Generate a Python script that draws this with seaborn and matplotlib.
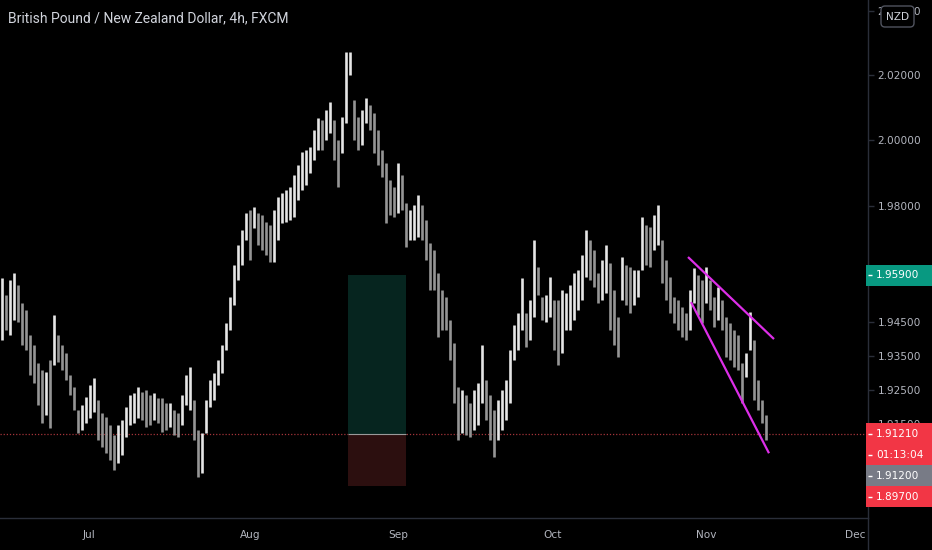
import numpy as np
import pandas as pd
import matplotlib
matplotlib.use("Agg")
import matplotlib.pyplot as plt
import matplotlib.ticker as mticker
from matplotlib.patches import Rectangle, FancyBboxPatch
from matplotlib.lines import Line2D
from matplotlib.transforms import IdentityTransform
import seaborn as sns

# chart data (~one bar per 4 px)
title = "British Pound / New Zealand Dollar, 4h, FXCM"

highs = [1.9582, 1.9531, 1.9576, 1.9597, 1.9561, 1.9507, 1.9486, 1.9412, 1.9382, 1.9329,
         1.9308, 1.9302, 1.9338, 1.9471, 1.9412, 1.9382, 1.9358, 1.9294, 1.9258, 1.9190,
         1.9205, 1.9229, 1.9264, 1.9285, 1.9220, 1.9181, 1.9170, 1.9146, 1.9117, 1.9146,
         1.9161, 1.9199, 1.9235, 1.9240, 1.9258, 1.9243, 1.9249, 1.9235, 1.9240, 1.9226,
         1.9226, 1.9211, 1.9211, 1.9190, 1.9181, 1.9235, 1.9294, 1.9317, 1.9220, 1.9132,
         1.9123, 1.9220, 1.9279, 1.9300, 1.9338, 1.9382, 1.9447, 1.9525, 1.9621, 1.9681,
         1.9726, 1.9778, 1.9787, 1.9796, 1.9778, 1.9772, 1.9751, 1.9742, 1.9787, 1.9826,
         1.9838, 1.9847, 1.9856, 1.9893, 1.9924, 1.9963, 1.9969, 1.9979, 2.0031, 2.0067,
         2.0061, 2.0092, 2.0117, 2.0061, 2.0000, 2.0070, 2.0271, 2.0271, 2.0123, 2.0070,
         2.0092, 2.0129, 2.0107, 2.0083, 2.0031, 1.9969, 1.9930, 1.9878, 1.9856, 1.9930,
         1.9893, 1.9808, 1.9787, 1.9802, 1.9832, 1.9802, 1.9757, 1.9687, 1.9666, 1.9597,
         1.9546, 1.9525, 1.9456, 1.9388, 1.9258, 1.9249, 1.9235, 1.9211, 1.9249, 1.9270,
         1.9382, 1.9279, 1.9235, 1.9190, 1.9220, 1.9249, 1.9279, 1.9367, 1.9442, 1.9477,
         1.9582, 1.9477, 1.9516, 1.9696, 1.9615, 1.9525, 1.9531, 1.9585, 1.9516, 1.9516,
         1.9546, 1.9537, 1.9561, 1.9597, 1.9606, 1.9651, 1.9726, 1.9696, 1.9666, 1.9597,
         1.9636, 1.9681, 1.9627, 1.9546, 1.9465, 1.9645, 1.9621, 1.9615, 1.9606, 1.9606,
         1.9766, 1.9742, 1.9736, 1.9772, 1.9802, 1.9696, 1.9636, 1.9585, 1.9525, 1.9516,
         1.9495, 1.9477, 1.9546, 1.9612, 1.9591, 1.9576, 1.9615, 1.9576, 1.9525, 1.9555,
         1.9516, 1.9465, 1.9447, 1.9427, 1.9412, 1.9329, 1.9358, 1.9480, 1.9397, 1.9279,
         1.9220, 1.9176]

lows = [1.9397, 1.9427, 1.9412, 1.9456, 1.9450, 1.9382, 1.9367, 1.9294, 1.9270, 1.9205,
        1.9152, 1.9176, 1.9138, 1.9323, 1.9332, 1.9308, 1.9279, 1.9235, 1.9190, 1.9123,
        1.9132, 1.9152, 1.9167, 1.9184, 1.9102, 1.9082, 1.9064, 1.9044, 1.9015, 1.9035,
        1.9059, 1.9111, 1.9146, 1.9152, 1.9167, 1.9161, 1.9141, 1.9146, 1.9161, 1.9152,
        1.9126, 1.9132, 1.9141, 1.9117, 1.9111, 1.9146, 1.9205, 1.9190, 1.9102, 1.8995,
        1.9006, 1.9123, 1.9199, 1.9220, 1.9264, 1.9300, 1.9367, 1.9427, 1.9501, 1.9576,
        1.9621, 1.9696, 1.9636, 1.9732, 1.9681, 1.9666, 1.9651, 1.9630, 1.9630, 1.9696,
        1.9748, 1.9751, 1.9757, 1.9766, 1.9817, 1.9847, 1.9863, 1.9899, 1.9939, 1.9969,
        1.9969, 2.0000, 2.0022, 1.9939, 1.9856, 1.9960, 2.0052, 2.0200, 2.0000, 1.9969,
        1.9985, 2.0052, 2.0031, 1.9960, 1.9924, 1.9887, 1.9748, 1.9772, 1.9766, 1.9778,
        1.9787, 1.9675, 1.9696, 1.9696, 1.9705, 1.9696, 1.9636, 1.9546, 1.9546, 1.9406,
        1.9427, 1.9427, 1.9338, 1.9211, 1.9102, 1.9123, 1.9117, 1.9111, 1.9132, 1.9146,
        1.9211, 1.9161, 1.9102, 1.9053, 1.9102, 1.9132, 1.9161, 1.9211, 1.9338, 1.9367,
        1.9427, 1.9376, 1.9397, 1.9465, 1.9531, 1.9456, 1.9450, 1.9465, 1.9367, 1.9323,
        1.9358, 1.9427, 1.9427, 1.9456, 1.9486, 1.9516, 1.9585, 1.9576, 1.9555, 1.9507,
        1.9516, 1.9537, 1.9427, 1.9382, 1.9347, 1.9516, 1.9501, 1.9477, 1.9501, 1.9525,
        1.9606, 1.9621, 1.9615, 1.9666, 1.9681, 1.9567, 1.9516, 1.9477, 1.9447, 1.9427,
        1.9406, 1.9397, 1.9427, 1.9507, 1.9471, 1.9447, 1.9507, 1.9486, 1.9436, 1.9456,
        1.9427, 1.9347, 1.9338, 1.9317, 1.9308, 1.9211, 1.9288, 1.9367, 1.9220, 1.9190,
        1.9152, 1.9102]

month_labels = ["Jul", "Aug", "Sep", "Oct", "Nov", "Dec"]
month_starts = [21.75, 62, 99, 137.75, 176, 213.25]   # bar index where the month begins

price_ticks = [2.04, 2.02, 2.00, 1.98, 1.945, 1.935, 1.925, 1.915]

last_close = 1.9121
entry_price = 1.9121
target_price = 1.9590
stop_price = 1.8970
position_bars = [86.5, 101.0]

wedge_upper_x = [171.5, 193.0]
wedge_upper_y = [1.9645, 1.9400]
wedge_lower_x = [172.25, 191.75]
wedge_lower_y = [1.9510, 1.9064]

countdown = "01:13:04"
bid_price = 1.9120

W, H = 932, 550
BG = "#000000"
GRID_LINE = "#2a2e39"
TXT = "#b2b5be"

# long-form table: each bar is a vertical low-high segment
bars = list(range(len(highs)))
mids = [(h + l) / 2 for h, l in zip(highs, lows)]
dirs = ["up"] + ["up" if mids[i] >= mids[i - 1] else "down" for i in range(1, len(mids))]
df = pd.DataFrame({
    "bar": bars + bars,
    "price": highs + lows,
    "dir": dirs + dirs,
})

sns.set_theme(style="dark")
plt.rcParams["font.family"] = ["DejaVu Sans"]
plt.rcParams["lines.solid_capstyle"] = "butt"

fig = plt.figure(figsize=(W / 100, H / 100), dpi=100, facecolor=BG)
ax = fig.add_axes([0, 32 / H, 868 / W, 518 / H])
ax.set_facecolor(BG)

sns.lineplot(data=df, x="bar", y="price", units="bar", estimator=None, sort=False,
             hue="dir", palette={"up": "#e6e6e6", "down": "#959595"},
             linewidth=1.9, legend=False, ax=ax)

ax.set_yscale("log")
ax.set_xlim(-0.5, 216.5)
ax.set_ylim(1.8876, 2.0433)

# long position box
ax.add_patch(Rectangle((position_bars[0], entry_price), position_bars[1] - position_bars[0],
                       target_price - entry_price, facecolor="#06251f", edgecolor="none", zorder=1))
ax.add_patch(Rectangle((position_bars[0], stop_price), position_bars[1] - position_bars[0],
                       entry_price - stop_price, facecolor="#2c0f0f", edgecolor="none", zorder=1))
ax.plot(position_bars, [entry_price, entry_price], color="#9a9a9a", lw=0.8, zorder=2)

# last price dotted line
ax.axhline(last_close, color="#a5343a", lw=0.9, ls=(0, (1, 1.5)), zorder=0.5)

# falling wedge
ax.plot(wedge_upper_x, wedge_upper_y, color="#dd2ee8", lw=1.6, zorder=5)
ax.plot(wedge_lower_x, wedge_lower_y, color="#dd2ee8", lw=1.6, zorder=5)

# axes styling
ax.grid(False)
for s in ["top", "left"]:
    ax.spines[s].set_visible(False)
for s in ["bottom", "right"]:
    ax.spines[s].set_color(GRID_LINE)
    ax.spines[s].set_linewidth(1.0)

ax.yaxis.tick_right()
ax.yaxis.set_major_locator(mticker.FixedLocator(price_ticks))
ax.yaxis.set_minor_locator(mticker.NullLocator())
ax.yaxis.set_major_formatter(mticker.FuncFormatter(lambda v, p: f"{v:.5f}"))
ax.set_xticks(month_starts)
ax.set_xticklabels(month_labels)
ax.tick_params(axis="y", colors=GRID_LINE, labelcolor=TXT, labelsize=7.6,
               length=4, width=1, pad=3, direction="out")
ax.tick_params(axis="x", colors=GRID_LINE, labelcolor=TXT, labelsize=7.6,
               length=4, width=1, pad=5, direction="out")
ax.set_xlabel("")
ax.set_ylabel("")
for lab in ax.get_yticklabels():
    lab.set_horizontalalignment("left")

# vertical separator continues below the axes
fig.add_artist(Line2D([868 / W, 868 / W], [0, 32 / H], transform=fig.transFigure,
                      color=GRID_LINE, lw=1.0))

fig.text(8 / W, 1 - 18 / H, title, color="#d1d4dc", fontsize=10,
         family=["Roboto", "DejaVu Sans"], va="center", ha="left")


def ypix(value):
    return ax.transData.transform((0, value))[1]


def price_tag(yc, text, face):
    fig.add_artist(Rectangle((866, yc - 10.5), W - 866, 21, transform=IdentityTransform(),
                             facecolor=face, edgecolor="none", zorder=10))
    fig.add_artist(Line2D([868, 872], [yc, yc], transform=IdentityTransform(),
                          color="white", lw=1, zorder=11))
    fig.text(876 / W, yc / H, text, color="white", fontsize=7.6, va="center", ha="left", zorder=12)


price_tag(ypix(target_price), f"{target_price:.5f}", "#089981")
y0 = ypix(last_close)
price_tag(y0, f"{last_close:.5f}", "#f23645")
price_tag(y0 - 21, countdown, "#f23645")
price_tag(y0 - 42, f"{bid_price:.5f}", "#787b86")
price_tag(y0 - 63, f"{stop_price:.5f}", "#f23645")

# currency badge (covers most of the top tick label, as in the screenshot)
fig.add_artist(FancyBboxPatch((881, H - 27), 33, 21, boxstyle="round,pad=0,rounding_size=4",
                              transform=IdentityTransform(), facecolor=BG,
                              edgecolor="#50535e", lw=1, zorder=10))
fig.text(897.5 / W, (H - 16.5) / H, "NZD", color="#d1d4dc", fontsize=7.6,
         ha="center", va="center", zorder=11)

fig.savefig("out.png", dpi=100, facecolor=BG)
